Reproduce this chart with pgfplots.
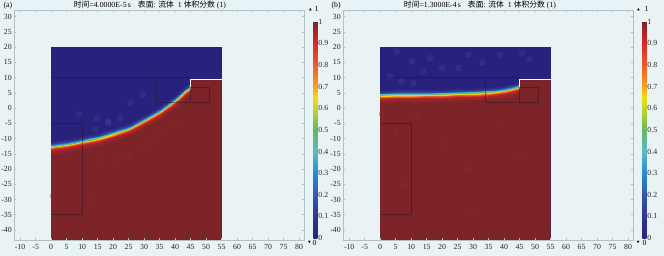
\documentclass[border=0pt]{standalone}
\usepackage{fontspec}
\setmainfont{Liberation Serif}
\newfontfamily\cjk{Noto Sans CJK SC}
\newfontfamily\dejavu{DejaVu Sans}
\usepackage{pgfplots}
\pgfplotsset{compat=1.18}
\definecolor{bgc}{RGB}{233,242,244}
\definecolor{framec}{RGB}{172,194,198}
\definecolor{dred}{RGB}{124,36,40}
\definecolor{dblue}{RGB}{40,34,124}
\definecolor{geo}{RGB}{30,20,30}
\definecolor{blob}{RGB}{66,78,165}
\definecolor{rblob}{RGB}{150,42,45}

\pgfplotstableread{
x y v
0 -15.3 1
5 -14.7 1
10 -13.7 1
15 -12.5 1
20 -11.1 1
25 -9.3 1
30 -6.7 1
35 -3.8 1
40 -0.1 1
43 2.6 1
45 4.5 1
0 -13.8 0.95
5 -13.2 0.95
10 -12.2 0.95
15 -11.0 0.95
20 -9.6 0.95
25 -7.8 0.95
30 -5.2 0.95
35 -2.3 0.95
40 1.4 0.95
43 4.1 0.95
45 6.0 0.95
0 -13.2 0.8
5 -12.6 0.8
10 -11.6 0.8
15 -10.4 0.8
20 -9.0 0.8
25 -7.2 0.8
30 -4.6 0.8
35 -1.7 0.8
40 2.0 0.8
43 4.7 0.8
45 6.6 0.8
0 -12.8 0.62
5 -12.2 0.62
10 -11.2 0.62
15 -10.0 0.62
20 -8.6 0.62
25 -6.8 0.62
30 -4.2 0.62
35 -1.3 0.62
40 2.4 0.62
43 5.1 0.62
45 7.0 0.62
0 -12.4 0.42
5 -11.8 0.42
10 -10.8 0.42
15 -9.6 0.42
20 -8.2 0.42
25 -6.4 0.42
30 -3.8 0.42
35 -0.9 0.42
40 2.8 0.42
43 5.5 0.42
45 7.4 0.42
0 -11.8 0.15
5 -11.2 0.15
10 -10.2 0.15
15 -9.0 0.15
20 -7.6 0.15
25 -5.8 0.15
30 -3.2 0.15
35 -0.3 0.15
40 3.4 0.15
43 6.1 0.15
45 8.0 0.15
0 -10.8 0
5 -10.2 0
10 -9.2 0
15 -8.0 0
20 -6.6 0
25 -4.8 0
30 -2.2 0
35 0.7 0
40 4.4 0
43 7.1 0
45 9.0 0
}\bandA

\pgfplotstableread{
x y v
0 1.6 1
5 1.65 1
10 1.7 1
15 1.8 1
20 1.9 1
25 2.05 1
30 2.25 1
35 2.55 1
40 3.1 1
43 3.7 1
45 4.5 1
0 3.1 0.95
5 3.15 0.95
10 3.2 0.95
15 3.3 0.95
20 3.4 0.95
25 3.55 0.95
30 3.75 0.95
35 4.05 0.95
40 4.6 0.95
43 5.2 0.95
45 6.0 0.95
0 3.7 0.8
5 3.75 0.8
10 3.8 0.8
15 3.9 0.8
20 4.0 0.8
25 4.15 0.8
30 4.35 0.8
35 4.65 0.8
40 5.2 0.8
43 5.8 0.8
45 6.6 0.8
0 4.1 0.62
5 4.15 0.62
10 4.2 0.62
15 4.3 0.62
20 4.4 0.62
25 4.55 0.62
30 4.75 0.62
35 5.05 0.62
40 5.6 0.62
43 6.2 0.62
45 7.0 0.62
0 4.5 0.42
5 4.55 0.42
10 4.6 0.42
15 4.7 0.42
20 4.8 0.42
25 4.95 0.42
30 5.15 0.42
35 5.45 0.42
40 6.0 0.42
43 6.6 0.42
45 7.4 0.42
0 5.1 0.15
5 5.15 0.15
10 5.2 0.15
15 5.3 0.15
20 5.4 0.15
25 5.55 0.15
30 5.75 0.15
35 6.05 0.15
40 6.6 0.15
43 7.2 0.15
45 8.0 0.15
0 6.1 0
5 6.15 0
10 6.2 0
15 6.3 0
20 6.4 0
25 6.55 0
30 6.75 0
35 7.05 0
40 7.6 0
43 8.2 0
45 9.0 0
}\bandB

\pgfplotsset{
  colormap={comsol}{rgb255(0pt)=(40,34,124) rgb255(10pt)=(46,54,146) rgb255(20pt)=(50,88,172)
    rgb255(30pt)=(38,140,212) rgb255(40pt)=(96,184,196) rgb255(50pt)=(104,182,96)
    rgb255(60pt)=(196,214,44) rgb255(65pt)=(244,222,10) rgb255(70pt)=(246,162,34)
    rgb255(80pt)=(236,92,40) rgb255(90pt)=(216,40,40) rgb255(100pt)=(124,36,40)},
  panel/.style={
    scale only axis, width=290pt, height=230pt, anchor=south west,
    xmin=-12, xmax=81.6, ymin=-43.3, ymax=32.2,
    xtick={-10,-5,...,80}, ytick={-40,-35,...,30},
    axis line style={framec, line width=0.6pt},
    tick style={framec, line width=0.5pt}, major tick length=2.2pt,
    tick align=inside,
    ticklabel style={font=\fontsize{7.8}{8}\selectfont, text=black!85},
    xticklabel style={yshift=-0.5pt},
    yticklabel style={xshift=1.2pt},
    /pgf/number format/assume math mode=true,
    axis background/.style={fill=bgc},
    axis on top,
    colormap name=comsol, point meta min=0, point meta max=1,
    colorbar,
    colorbar style={
      at={(parent axis.north east)}, anchor=north west,
      xshift=0.8pt, yshift=-11.6pt, width=4pt, height=216.5pt,
      ymin=0, ymax=1,
      ytick={0,0.1,0.2,0.3,0.4,0.5,0.6,0.7,0.8,0.9,1},
      yticklabels={0,0.1,0.2,0.3,0.4,0.5,0.6,0.7,0.8,0.9,1},
      axis line style={draw=none}, major tick length=0pt,
      yticklabel style={font=\fontsize{7.8}{8}\selectfont, text=black!85, xshift=-2.4pt},
    },
  },
  geoline/.style={geo, opacity=0.45, line width=0.45pt, forget plot},
  blobs/.style={only marks, mark=*, mark size=3pt, blob, opacity=0.28, mark options={draw=none}, forget plot},
  rblobs/.style={only marks, mark=*, mark size=2.8pt, rblob, opacity=0.3, mark options={draw=none}, forget plot},
}

\begin{document}
\begin{tikzpicture}[x=1pt,y=1pt]
\fill[bgc] (0,0) rectangle (664,256);
\useasboundingbox (0,0) rectangle (664,256);

% ---------------- panel (a)
\begin{axis}[panel, at={(14pt,16pt)}]
\addplot[draw=none, fill=dblue, forget plot] coordinates {(0,-46) (55,-46) (55,20) (0,20)};
\addplot[draw=none, fill=dred, forget plot] coordinates {
 (0,-46) (0,-12.8) (5,-12.2) (10,-11.2) (15,-10.0) (20,-8.6) (25,-6.8) (30,-4.2)
 (35,-1.3) (40,2.4) (43,5.1) (45,7.0) (45,9.3) (55,9.3) (55,-46)};
\addplot[blobs] coordinates {(14.7,-3.3) (14.2,-7.1) (18.5,-5) (25.5,1.6) (29.7,4.4) (18.4,-4.4) (22.3,-3.3) (9,-2)};
\addplot[rblobs] coordinates {(0.5,-29) (15,-17) (20,-17) (25,-16) (30,-12) (35,-9) (40,-6) (12,-30)};
\addplot[surf, shader=interp, mesh/cols=11, mesh/rows=7, point meta=explicit, forget plot]
  table[x=x, y=y, meta=v] {\bandA};
\addplot[geoline] coordinates {(0,10) (45,10)};
\addplot[geoline] coordinates {(0,-5) (10,-5) (10,-35) (0,-35)};
\addplot[geoline] coordinates {(34,10) (34,2) (51,2) (51,7) (45,7) (45,2)};
\addplot[white, line width=1.4pt, forget plot] coordinates {(45,7) (45,9.4) (55.3,9.4)};
\end{axis}

% ---------------- panel (b)
\begin{axis}[panel, at={(343pt,16pt)}]
\addplot[draw=none, fill=dblue, forget plot] coordinates {(0,-46) (55,-46) (55,20) (0,20)};
\addplot[draw=none, fill=dred, forget plot] coordinates {
 (0,-46) (0,4.1) (5,4.15) (10,4.2) (15,4.3) (20,4.4) (25,4.55) (30,4.75)
 (35,5.05) (40,5.6) (43,6.2) (45,7.0) (45,9.3) (55,9.3) (55,-46)};
\addplot[blobs] coordinates {(5.4,18.6) (10.2,15.3) (16.1,16.4) (19.9,13.1) (25.3,13.1) (28.5,17.5)
  (38.7,17.5) (45.7,18) (3.2,10.4) (6.9,8.7) (10.7,8.2) (13.9,12) (33,15) (48,16)};
\addplot[rblobs] coordinates {(0.5,-2) (5,-8) (12,-3) (20,-12) (28,-20) (38,-6) (45,-15) (8,-25) (30,-35)};
\addplot[surf, shader=interp, mesh/cols=11, mesh/rows=7, point meta=explicit, forget plot]
  table[x=x, y=y, meta=v] {\bandB};
\addplot[geoline] coordinates {(0,10) (45,10)};
\addplot[geoline] coordinates {(0,-5) (10,-5) (10,-35) (0,-35)};
\addplot[geoline] coordinates {(34,10) (34,2) (51,2) (51,7) (45,7) (45,2)};
\addplot[white, line width=1.4pt, forget plot] coordinates {(45,7) (45,9.4) (55.3,9.4)};
\end{axis}

% titles
\node[anchor=west, font=\fontsize{7.8}{8}\selectfont] at (0,250.5) {(a)};
\node[anchor=west, font=\fontsize{7.8}{8}\selectfont] at (328,250.5) {(b)};
\node[font=\fontsize{7.8}{8}\selectfont] at (150,250.5)
  {{\cjk 时间}=4.0000E-5\,s\hspace{7pt}{\cjk 表面}: {\cjk 流体}\hspace{4pt}1 {\cjk 体积分数} (1)};
\node[font=\fontsize{7.8}{8}\selectfont] at (480,250.5)
  {{\cjk 时间}=1.3000E-4\,s\hspace{7pt}{\cjk 表面}: {\cjk 流体}\hspace{4pt}1 {\cjk 体积分数} (1)};

% colour-range markers
\node[font=\dejavu\fontsize{3.5}{4}\selectfont, inner sep=0] at (310.5,246) {▲};
\node[font=\fontsize{7.8}{8}\selectfont, inner sep=0, anchor=west] at (314.5,246.8) {1};
\node[font=\dejavu\fontsize{3.5}{4}\selectfont, inner sep=0] at (309.5,13) {▼};
\node[font=\fontsize{7.8}{8}\selectfont, inner sep=0, anchor=west] at (312.5,13) {0};
\node[font=\dejavu\fontsize{3.5}{4}\selectfont, inner sep=0] at (638.5,246) {▲};
\node[font=\fontsize{7.8}{8}\selectfont, inner sep=0, anchor=west] at (644.5,246.8) {1};
\node[font=\dejavu\fontsize{3.5}{4}\selectfont, inner sep=0] at (638.3,13) {▼};
\node[font=\fontsize{7.8}{8}\selectfont, inner sep=0, anchor=west] at (642.5,13) {0};
\end{tikzpicture}
\end{document}
